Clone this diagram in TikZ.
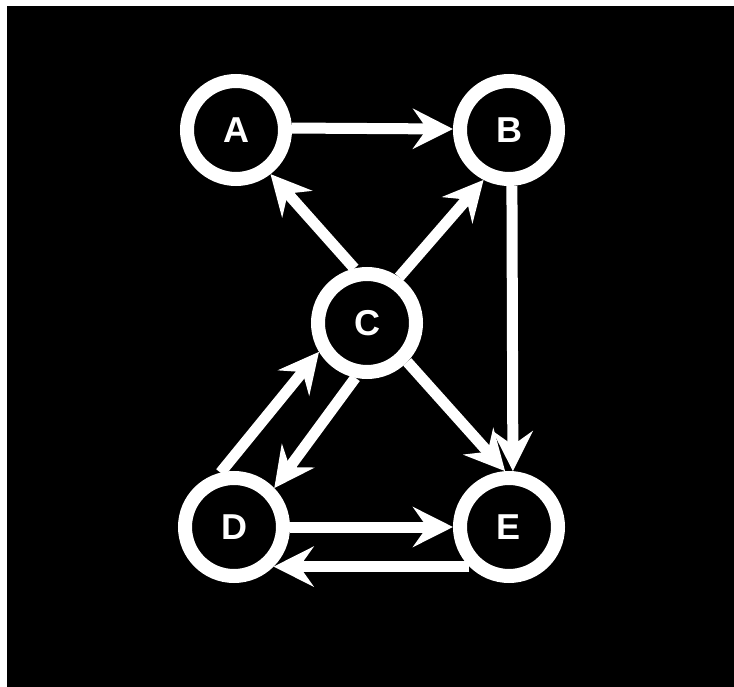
\documentclass[tikz,border=0pt]{standalone}
\usepackage{fontspec}
\setmainfont{Liberation Sans}
\usetikzlibrary{arrows.meta}
\begin{document}
\begin{tikzpicture}[x=1pt,y=-1pt,
  vertex/.style={circle, draw=white, line width=14pt, minimum size=98pt, inner sep=0pt,
    fill=black, text=white, font=\fontsize{36}{36}\selectfont\bfseries},
  edge/.style={draw=white, line width=11pt, -{Stealth[length=40pt,width=40pt,inset=14pt]}}]
\useasboundingbox (0,0) rectangle (734,687);
\fill[white] (0,0) rectangle (734,687);
\fill[black] (7,6) rectangle (734,687);
\node[vertex] (A) at (236,130) {A};
\node[vertex] (B) at (509,130) {B};
\node[vertex] (C) at (367,323) {C};
\node[vertex] (D) at (234,527) {D};
\node[vertex] (E) at (509,527) {E};
\draw[edge] (A.2) -- (B.179);
\draw[edge] (B.-87) -- (E.86);
\draw[edge] (C.103) -- (A.-52);
\draw[edge] (C.55) -- (B.-117);
\draw[edge] (C.-44) -- (E.94);
\draw[edge] (C.-102) -- (D.44);
\draw[edge] (D.104) -- (C.211);
\draw[edge] (D.0) -- (E.180);
\draw[edge] (E.225) -- (D.-45);
\end{tikzpicture}
\end{document}
